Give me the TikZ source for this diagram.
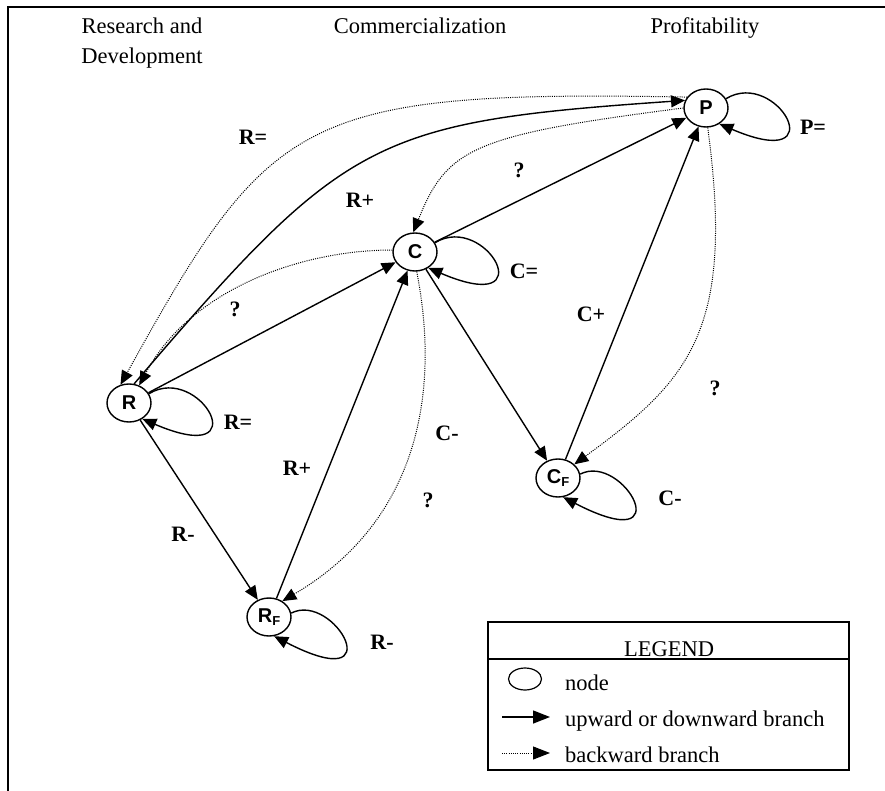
\documentclass[tikz,border=0pt]{standalone}
\usepackage{fontspec}
\setmainfont{Liberation Serif}
\setsansfont{Liberation Sans}
\usetikzlibrary{arrows.meta,shapes.geometric}
\begin{document}
\begin{tikzpicture}[x=1pt,y=-1pt,
  stnode/.style={draw,ellipse,line width=1.4pt,minimum width=44pt,minimum height=38pt,inner sep=0pt,font=\sffamily\bfseries\fontsize{20}{20}\selectfont},
  solidedge/.style={line width=1.4pt,-{Triangle[length=14pt,width=12pt]}},
  dotedge/.style={line width=1pt,dash pattern=on 1pt off 1.2pt,-{Triangle[length=14pt,width=12pt]}},
  lab/.style={font=\bfseries\fontsize{22}{22}\selectfont,inner sep=0pt},
  hdr/.style={font=\fontsize{22.5}{31}\selectfont,inner sep=0pt,anchor=base},
  legtxt/.style={font=\fontsize{22.5}{31}\selectfont,inner sep=0pt,anchor=base west}
  ]
\newcommand\looprt[1]{\draw[solidedge] (#1.25) .. controls +(51,-31) and +(117,50) .. (#1.-50);}
\newcommand\looplow[1]{\draw[solidedge] (#1.10) .. controls +(43,-22) and +(120,62) .. (#1.-75);}
\useasboundingbox (0,0) rectangle (885,791);
% frame
\draw[line width=2pt] (8,791) -- (8,7) -- (885,7);
% headers
\node[hdr] (h1) at (142,34) {Research and};
\node[hdr] (h1b) at (142,64) {Development};
\node[hdr] (h2) at (420,34) {Commercialization};
\node[hdr] (h3) at (705,34) {Profitability};
% nodes
\node[stnode] (P) at (706,108) {P};
\node[stnode] (C) at (415,252) {C};
\node[stnode] (R) at (129,403) {R};
\node[stnode] (CF) at (558,478) {C\raisebox{-0.3ex}{\fontsize{13}{13}\selectfont F}};
\node[stnode] (RF) at (269,617) {R\raisebox{-0.3ex}{\fontsize{13}{13}\selectfont F}};
% self loops
\looprt{P}
\looprt{C}
\looprt{R}
\looplow{CF}
\looplow{RF}
% solid branches
\draw[solidedge] (R.75) .. controls (345,137) and (373,122) .. (P.160);
\draw[solidedge] (R) -- (C);
\draw[solidedge] (C) -- (P);
\draw[solidedge] (C) -- (CF);
\draw[solidedge] (CF) -- (P);
\draw[solidedge] (R) -- (RF);
\draw[solidedge] (RF) -- (C);
% dotted branches
\draw[dotedge] (P.150) .. controls (300,90) and (270,115) .. (R.115);
\draw[dotedge] (P.180) .. controls (473,135) and (447,148) .. (C.95);
\draw[dotedge] (C.175) .. controls (300,250) and (190,290) .. (R.60);
\draw[dotedge] (C.-85) .. controls (440,390) and (420,520) .. (RF.50);
\draw[dotedge] (P.-85) .. controls (735,330) and (690,380) .. (CF.40);
% labels
\node[lab] (l1) at (253,137) {R=};
\node[lab] (l2) at (360,200) {R+};
\node[lab] (l3) at (519,170) {?};
\node[lab] (l4) at (235,309) {?};
\node[lab] (l5) at (524,271) {C=};
\node[lab] (l6) at (813,127) {P=};
\node[lab] (l7) at (238,422) {R=};
\node[lab] (l8) at (591,314) {C+};
\node[lab] (l9) at (447,433) {C-};
\node[lab] (l10) at (715,388) {?};
\node[lab] (l11) at (297,468) {R+};
\node[lab] (l12) at (428,500) {?};
\node[lab] (l13) at (670,498) {C-};
\node[lab] (l14) at (183,534) {R-};
\node[lab] (l15) at (382,642) {R-};
% legend
\draw[line width=2pt] (488,622) rectangle (849,770);
\draw[line width=2pt] (488,659) -- (849,659);
\node[hdr] (lg) at (669,656) {LEGEND};
\node[draw,ellipse,line width=1.2pt,minimum width=33pt,minimum height=22pt,inner sep=0pt] (lgn) at (525,679) {};
\node[legtxt] (lgt1) at (565,690) {node};
\coordinate (la1) at (502,717);
\coordinate (la2) at (550,717);
\draw[line width=1.4pt,-{Triangle[length=17pt,width=13pt]}] (la1) -- (la2);
\node[legtxt] (lgt2) at (565,726) {upward or downward branch};
\coordinate (lb1) at (502,753);
\coordinate (lb2) at (550,753);
\draw[line width=1pt,dash pattern=on 1pt off 1.2pt,-{Triangle[length=17pt,width=13pt]}] (lb1) -- (lb2);
\node[legtxt] (lgt3) at (565,762) {backward branch};
\end{tikzpicture}
\end{document}
